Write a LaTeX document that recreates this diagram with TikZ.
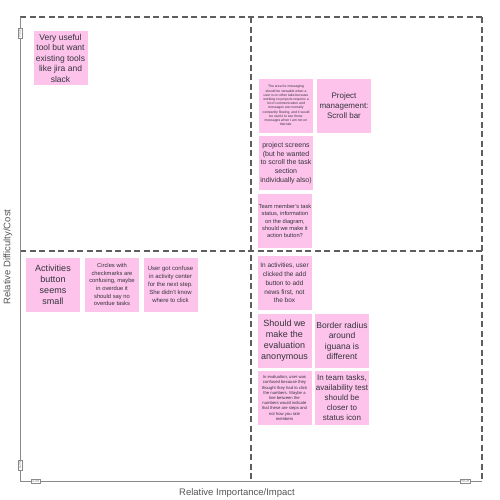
\documentclass[tikz,border=0pt]{standalone}
\usepackage{fontspec}
\setmainfont{Liberation Sans}
\definecolor{stickypink}{HTML}{FDC3EA}
\definecolor{frameline}{HTML}{5E5E5E}
\definecolor{axisline}{HTML}{8A8A8A}
\definecolor{stickytext}{HTML}{33333D}
\definecolor{labeltext}{HTML}{555555}
\newcommand{\fs}[2]{\fontsize{#1}{#2}\selectfont}

\begin{document}
\begin{tikzpicture}[x=1pt,y=-1pt,
  sticky/.style={fill=stickypink,minimum width=54pt,minimum height=54pt,inner sep=1pt,align=center,text=stickytext},
  quadline/.style={frameline,line width=1.4pt,dash pattern=on 6pt off 3.5pt},
  axis/.style={axisline,line width=0.9pt},
  axistag/.style={draw=axisline,fill=white,line width=0.4pt,inner sep=0.8pt,font=\fs{3.5}{4},text=axisline}]
  \useasboundingbox (0,0) rectangle (500,499);

  % frame
  \coordinate (tl) at (20,17);
  \coordinate (tr) at (482,17);
  \coordinate (bl) at (20,481);
  \coordinate (br) at (482,481);
  \coordinate (midt) at (251,17);
  \coordinate (midb) at (251,481);
  \coordinate (midl) at (20,251);
  \coordinate (midr) at (482,251);
  \draw[quadline] (tl) -- (tr);
  \draw[quadline] (tr) -- (br);
  \draw[quadline] (midl) -- (midr);
  \draw[quadline] (midt) -- (midb);
  \draw[axis] (tl) -- (bl) -- (br);

  % axis tags
  \node[axistag,rotate=90] (yhigh) at (20,33) {HIGH};
  \node[axistag,rotate=90] (ylow) at (20,465) {LOW};
  \node[axistag] (xlow) at (35.5,481.5) {LOW};
  \node[axistag] (xhigh) at (465,481.5) {HIGH};

  % axis labels
  \node[rotate=90,text=labeltext,font=\fs{9.5}{11}] (ylab) at (8,257) {Relative Difficulty/Cost};
  \node[text=labeltext,font=\fs{9.5}{11}] (xlab) at (237,493) {Relative Importance/Impact};

  % top left
  \node[sticky,font=\fs{8.5}{10.5}] (jira) at (60.5,58) {Very useful\\tool but want\\existing tools\\like jira and\\slack};

  % top right
  \node[sticky,font=\fs{3.4}{4.2}] (messaging) at (286,105.5) {The area for messaging\\should be viewable when a\\user is on other tabs because\\working on projects requires a\\lot of communication and\\messages are normally\\constantly flowing, and it would\\be useful to see those\\messages when I am not on\\that tab.};
  \node[sticky,font=\fs{8}{9.7}] (scrollbar) at (344,105.5) {Project\\management:\\Scroll bar};
  \node[sticky,font=\fs{7}{8.6}] (screens) at (286,163) {project screens\\(but he wanted\\to scroll the task\\section\\individually also)};
  \node[sticky,font=\fs{5.7}{7.3}] (taskstatus) at (285,221) {Team member's task\\status, information\\on the diagram,\\should we make it\\action button?};

  % bottom left
  \node[sticky,font=\fs{9}{11}] (activities) at (53,284.5) {Activities\\button\\seems\\small};
  \node[sticky,font=\fs{5.8}{7.7}] (circles) at (112,284.5) {Circles with\\checkmarks are\\confusing, maybe\\in overdue it\\should say no\\overdue tasks};
  \node[sticky,font=\fs{6}{8}] (confuse) at (170.5,284.5) {User got confuse\\in activity center\\for the next step.\\She didn't know\\where to click};

  % bottom right
  \node[sticky,font=\fs{6.5}{8.7}] (addnews) at (284.5,283) {In activities, user\\clicked the add\\button to add\\news first, not\\the box};
  \node[sticky,font=\fs{9}{11}] (anonymous) at (284.5,341) {Should we\\make the\\evaluation\\anonymous};
  \node[sticky,font=\fs{8.5}{10.5}] (iguana) at (342,341) {Border radius\\around\\iguana is\\different};
  \node[sticky,font=\fs{4.2}{5.2}] (evaluation) at (284.5,398) {In evaluation, user was\\confused because they\\thought they had to click\\the numbers. Maybe a\\line between the\\numbers would indicate\\that these are steps and\\not how you rate\\members};
  \node[sticky,font=\fs{8}{10}] (teamtasks) at (342,398) {In team tasks,\\availability test\\should be\\closer to\\status icon};
\end{tikzpicture}
\end{document}
